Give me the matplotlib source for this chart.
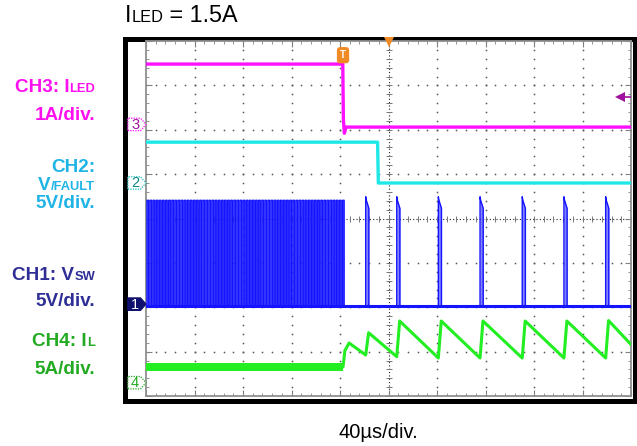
import numpy as np
import matplotlib.pyplot as plt
from matplotlib.ticker import MultipleLocator
from matplotlib.offsetbox import TextArea, HPacker, AnnotationBbox
from matplotlib.patches import Rectangle, Polygon

plt.rcParams['font.family'] = ['Liberation Sans', 'DejaVu Sans']

# ---- data (read off the scope shot) ----
# time base: 40 us/div, 10 div across the screen, t = 0 at left edge
t_span = 400.0
trig_t = 162.5          # trigger position (us)
trig_level = 0.62       # CH3 trigger level (A)

# channel offsets (div from bottom) and scales (unit/div)
ch3_off, ch3_scale = 6.12, 1.0   # I_LED  1A/div
ch2_off, ch2_scale = 4.80, 5.0   # V/FAULT 5V/div
ch1_off, ch1_scale = 2.07, 5.0   # V_SW 5V/div
ch4_off, ch4_scale = 0.30, 5.0   # I_L 5A/div

# CH3: LED current (A)
ch3_t = [0.0, 162.3, 162.8, 163.6, 165.0, 400.0]
ch3_i = [1.36, 1.36, 0.10, -0.20, -0.06, -0.06]

# CH2: /FAULT voltage (V)
ch2_t = [0.0, 191.0, 191.6, 400.0]
ch2_v = [4.6, 4.6, 0.0, 0.0]

# CH1: switch node (V)
sw_low, sw_high = -0.2, 11.7
burst_start, burst_stop = 0.8, 164.0   # us, fast switching before fault
burst_period, burst_on = 2.56, 1.3     # us
pulse_t = [181.2, 206.8, 241.1, 275.5, 310.3, 344.7, 379.1]  # hiccup pulses (us)
pulse_width = 2.6
pulse_peak, pulse_end = 12.1, 10.8

# CH4: inductor current (A)
ch4_t = [0.0, 162.5, 164.0, 167.5, 181.2, 183.6, 206.8, 209.2, 241.1, 243.5,
         275.5, 277.9, 310.3, 312.7, 344.7, 347.1, 379.1, 381.5, 400.0]
ch4_i = [1.77, 1.77, 3.6, 4.47, 3.12, 5.63, 2.93, 6.95, 2.78, 6.95,
         2.78, 6.95, 2.78, 6.95, 2.78, 6.95, 2.78, 7.0, 4.3]
ch4_ripple_pre = 0.4

# colours
c_mag, c_mag_lbl = '#ff10ff', '#ff10f0'
c_cyan, c_cyan_lbl = '#1ee8e8', '#1fb4e6'
c_blue, c_blue_fill, c_blue_lbl = '#1414ff', '#8282ff', '#2e2e96'
c_green, c_green_lbl = '#22ee22', '#22aa22'

W, H = 637, 446
fig = plt.figure(figsize=(W / 100, H / 100), dpi=100)

# overlay in pixel coords for frame and text
ov = fig.add_axes([0, 0, 1, 1])
ov.set_xlim(0, W)
ov.set_ylim(H, 0)
ov.axis('off')
ov.add_patch(Rectangle((124.5, 38.5), 510, 362, fill=False, lw=3.6, ec='black'))

ax = fig.add_axes([146 / W, (H - 396) / H, 485 / W, 355 / H])
ax.set_xlim(0, t_span)
ax.set_ylim(0, 8)
ax.xaxis.set_major_locator(MultipleLocator(40))
ax.xaxis.set_minor_locator(MultipleLocator(8))
ax.yaxis.set_major_locator(MultipleLocator(1))
ax.yaxis.set_minor_locator(MultipleLocator(0.2))
ax.tick_params(which='both', direction='in', top=True, right=True,
               labelbottom=False, labelleft=False, color='#808080')
ax.tick_params(which='major', length=4, width=0.8)
ax.tick_params(which='minor', length=2, width=0.6)
for s in ax.spines.values():
    s.set_color('#909090')
    s.set_linewidth(1.3)

# graticule dots
minor_x = np.arange(0, t_span + 0.1, 8)
minor_y = np.arange(0, 8.01, 0.2)
for gx in range(40, 400, 40):
    if gx != 200:
        ax.plot(np.full_like(minor_y, gx), minor_y, ls='none', marker='s', ms=1.1,
                mew=0, color='#555555', zorder=1)
for gy in range(1, 8):
    if gy != 4:
        ax.plot(minor_x, np.full_like(minor_x, gy), ls='none', marker='s', ms=1.1,
                mew=0, color='#555555', zorder=1)
ax.plot([0, t_span], [4, 4], ls=(0, (1, 2)), color='#222222', lw=0.8, zorder=1)
ax.plot([200, 200], [0, 8], ls=(0, (1, 2)), color='#222222', lw=0.8, zorder=1)
ax.plot(minor_x, np.full_like(minor_x, 4), ls='none', marker='|', ms=4, mew=0.7,
        color='#777777', zorder=1)
ax.plot(np.full_like(minor_y, 200), minor_y, ls='none', marker='_', ms=4, mew=0.7,
        color='#777777', zorder=1)


def to_div(vals, off, scale):
    return off + np.asarray(vals) / scale


# CH4
t4 = np.array(ch4_t)
y4 = to_div(ch4_i, ch4_off, ch4_scale)
ax.fill_between([0, trig_t], to_div(ch4_i[0] - ch4_ripple_pre, ch4_off, ch4_scale),
                to_div(ch4_i[0] + ch4_ripple_pre, ch4_off, ch4_scale),
                color=c_green, lw=0, zorder=3)
ax.plot(t4, y4, color=c_green, lw=2.2, zorder=3)

# CH1
t1, v1 = [0.0], [sw_low]
for t0 in np.arange(burst_start, burst_stop, burst_period):
    t1 += [t0, t0, t0 + burst_on, t0 + burst_on]
    v1 += [sw_low, sw_high, sw_high, sw_low]
for tp in pulse_t:
    t1 += [tp, tp, tp + 0.5, tp + pulse_width, tp + pulse_width]
    v1 += [sw_low, pulse_peak, pulse_peak - 0.4, pulse_end, sw_low]
t1.append(t_span)
v1.append(sw_low)
y1 = to_div(v1, ch1_off, ch1_scale)
ax.fill_between(t1, to_div(sw_low, ch1_off, ch1_scale), y1, color=c_blue_fill, lw=0, zorder=3)
ax.plot(t1, y1, color=c_blue, lw=1.0, zorder=4)
ax.plot([0, t_span], [to_div(sw_low, ch1_off, ch1_scale)] * 2, color=c_blue, lw=2.2, zorder=4)

# CH2
ax.plot(ch2_t, to_div(ch2_v, ch2_off, ch2_scale), color=c_cyan, lw=2.4, zorder=5)
# CH3
ax.plot(ch3_t, to_div(ch3_i, ch3_off, ch3_scale), color=c_mag, lw=2.4, zorder=5)


# channel ground markers on left edge
def ch_marker(off, num, ec, fc, tc):
    w, h = 15.0, 0.14
    pts = [(-w, off - h), (-w * 0.3, off - h), (0, off), (-w * 0.3, off + h), (-w, off + h)]
    ax.add_patch(Polygon(pts, closed=True, fc=fc, ec=ec, lw=0.9,
                         ls=(0, (1, 1)) if fc == 'white' else '-',
                         clip_on=False, zorder=6))
    ax.text(-w * 0.6, off - 0.01, num, ha='center', va='center', fontsize=10.5,
            color=tc, clip_on=False, zorder=7)


ch_marker(ch3_off, '3', c_mag, 'white', '#a0109f')
ch_marker(ch2_off, '2', '#20c0c0', 'white', '#108888')
ch_marker(ch1_off, '1', '#10106e', '#10106e', 'white')
ch_marker(ch4_off, '4', c_green_lbl, 'white', c_green_lbl)

# trigger markers
ax.text(trig_t, 7.68, 'T', ha='center', va='center', color='white', fontsize=7,
        fontweight='bold', zorder=8,
        bbox=dict(boxstyle='round,pad=0.25', fc='#f08a24', ec='#f08a24'))
ax.plot([200], [7.97], marker='v', ms=7, color='#f08a24', mew=0, clip_on=False, zorder=8)
ax.plot([391], [to_div(trig_level, ch3_off, ch3_scale)], marker='<', ms=7.5,
        color='#a0109f', mew=0, zorder=8)
ax.plot([391, 400], [to_div(trig_level, ch3_off, ch3_scale)] * 2, color='#a0109f',
        lw=1.2, zorder=8)


# text labels
def label(x, y, parts, color, bold=True, size=13.6, sub=0.68, align=(1, 0.5)):
    kids = []
    for txt, small in parts:
        kids.append(TextArea(txt, textprops=dict(
            color=color, fontsize=size * sub if small else size,
            fontweight='bold' if bold else 'normal')))
    box = HPacker(children=kids, align='baseline', pad=0, sep=0)
    ov.add_artist(AnnotationBbox(box, (x, y), xycoords='data', frameon=False,
                                 box_alignment=align, pad=0))


label(125, 16, [('I', False), ('LED', True), (' = 1.5A', False)], 'black',
      bold=False, size=16.8, sub=0.7, align=(0, 0.5))
label(95, 88, [('CH3: I', False), ('LED', True)], c_mag_lbl)
label(95, 115, [('1A/div.', False)], c_mag_lbl)
label(95, 168, [('CH2:', False)], c_cyan_lbl)
label(95, 186, [('V', False), ('/FAULT', True)], c_cyan_lbl)
label(95, 204, [('5V/div.', False)], c_cyan_lbl)
label(95, 275, [('CH1: V', False), ('SW', True)], c_blue_lbl)
label(95, 302, [('5V/div.', False)], c_blue_lbl)
label(95, 341, [('CH4: I', False), ('L', True)], c_green_lbl)
label(95, 370, [('5A/div.', False)], c_green_lbl)

ov.text(378, 432, '40µs/div.', ha='center', va='center', fontsize=14.5, color='black')

fig.savefig('out.png', dpi=100)
